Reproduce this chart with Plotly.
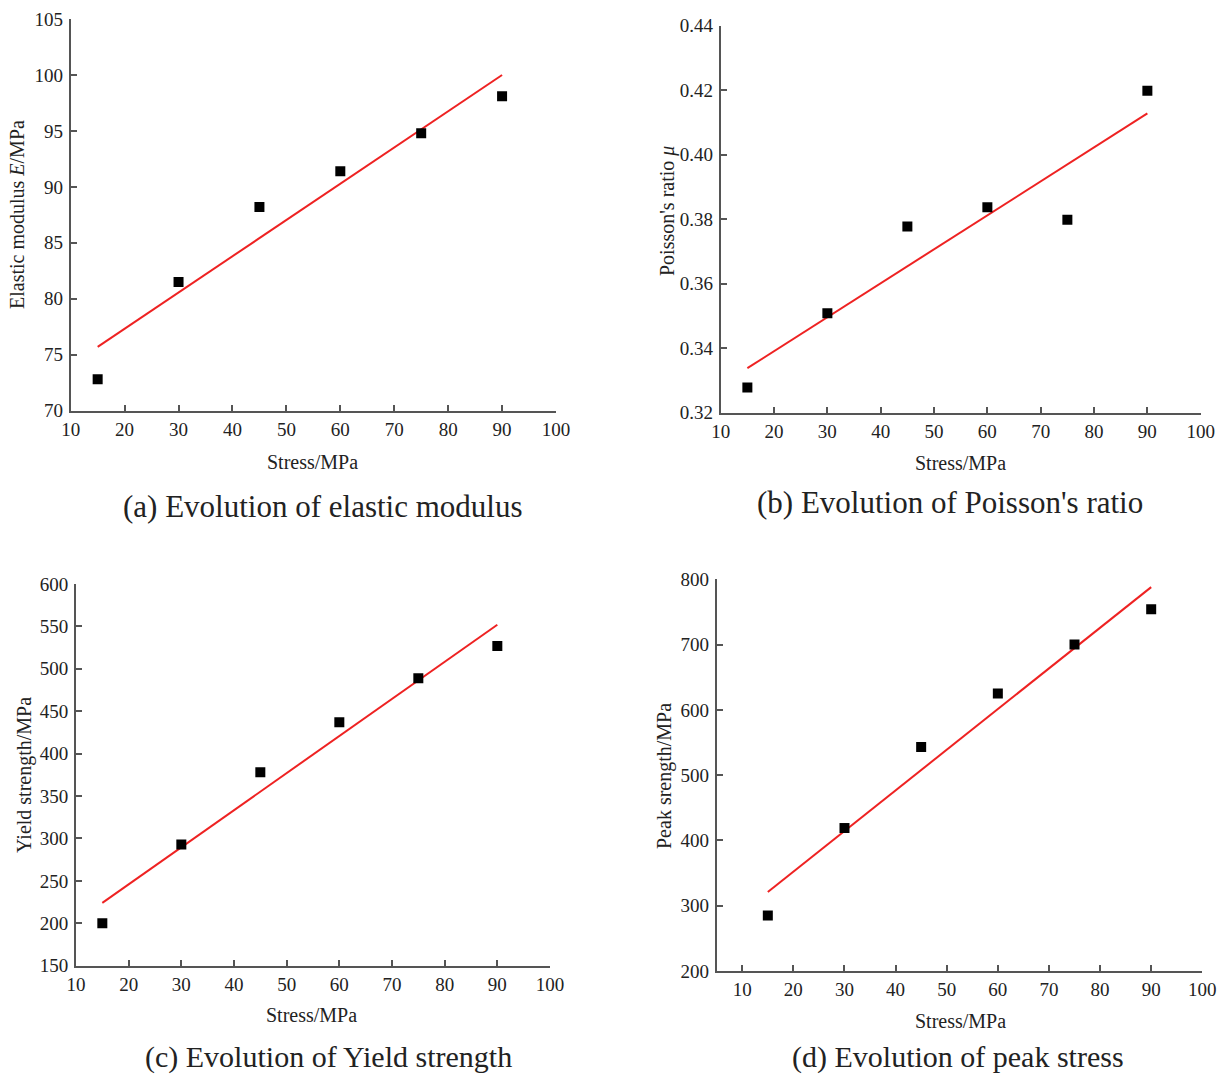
import plotly.graph_objects as go

W, H = 1226, 1078

stress = [15, 30, 45, 60, 75, 90]

elastic_modulus = [72.8, 81.5, 88.2, 91.4, 94.8, 98.1]
elastic_fit_x = [15, 90]
elastic_fit_y = [75.7, 100.0]

poisson_ratio = [0.3278, 0.3508, 0.3777, 0.3837, 0.3798, 0.4198]
poisson_fit_x = [15, 90]
poisson_fit_y = [0.3338, 0.4128]

yield_strength = [200, 293, 378, 437, 489, 527]
yield_fit_x = [15, 90]
yield_fit_y = [224, 552]

peak_strength = [285, 419, 543, 625, 700, 754]
peak_fit_x = [15, 90]
peak_fit_y = [321, 788]

x_ticks = [10, 20, 30, 40, 50, 60, 70, 80, 90, 100]
ticks_a = [70, 75, 80, 85, 90, 95, 100, 105]
ticks_b = [0.32, 0.34, 0.36, 0.38, 0.40, 0.42, 0.44]
ticks_c = [150, 200, 250, 300, 350, 400, 450, 500, 550, 600]
ticks_d = [200, 300, 400, 500, 600, 700, 800]

FONT = "Liberation Serif"
AXIS_COLOR = "#555555"
TICK_COLOR = "#222222"


def px_x(p):
    return p / W


def px_y(p):
    return 1 - p / H


panels = [
    dict(y=elastic_modulus, fx=elastic_fit_x, fy=elastic_fit_y,
         xb=(70.7, 556), yb=(19, 410.7), xr=[10, 100], yr=[70, 105],
         yt=ticks_a, fmt=None),
    dict(y=poisson_ratio, fx=poisson_fit_x, fy=poisson_fit_y,
         xb=(720.7, 1200.7), yb=(25.7, 412.7), xr=[10, 100], yr=[0.32, 0.44],
         yt=ticks_b, fmt=".2f"),
    dict(y=yield_strength, fx=yield_fit_x, fy=yield_fit_y,
         xb=(76, 550), yb=(584, 965.7), xr=[10, 100], yr=[150, 600],
         yt=ticks_c, fmt=None),
    dict(y=peak_strength, fx=peak_fit_x, fy=peak_fit_y,
         xb=(716.7, 1202.3), yb=(579.3, 971), xr=[5, 100], yr=[200, 800],
         yt=ticks_d, fmt=None),
]

fig = go.Figure()
layout = dict(
    width=W, height=H, margin=dict(l=0, r=0, t=0, b=0, autoexpand=False),
    paper_bgcolor="white", plot_bgcolor="white", showlegend=False,
    font=dict(family=FONT, color=TICK_COLOR),
)

for i, p in enumerate(panels):
    n = "" if i == 0 else str(i + 1)
    xa, ya = "x" + n, "y" + n
    fig.add_trace(go.Scatter(x=p["fx"], y=p["fy"], mode="lines",
                             line=dict(color="#ee2222", width=2),
                             xaxis=xa, yaxis=ya, hoverinfo="skip"))
    fig.add_trace(go.Scatter(x=stress, y=p["y"], mode="markers",
                             marker=dict(symbol="square", size=10, color="black"),
                             xaxis=xa, yaxis=ya))
    common = dict(showgrid=False, zeroline=False, showline=True, automargin=False,
                  linecolor=AXIS_COLOR, linewidth=2, ticks="inside",
                  ticklen=6, tickwidth=2, tickcolor=AXIS_COLOR,
                  tickfont=dict(family=FONT, size=19, color=TICK_COLOR),
                  mirror=False, fixedrange=True)
    layout["xaxis" + n] = dict(common, domain=[px_x(p["xb"][0]), px_x(p["xb"][1])],
                               range=p["xr"], tickvals=x_ticks, anchor=ya)
    yax = dict(common, domain=[px_y(p["yb"][1]), px_y(p["yb"][0])],
               range=p["yr"], tickvals=p["yt"], anchor=xa, ticklabelstandoff=2)
    if p["fmt"]:
        yax["tickformat"] = p["fmt"]
    layout["yaxis" + n] = yax

fig.update_layout(**layout)

annotations = []


def add_text(text, x, y, size, angle=0):
    annotations.append(dict(text=text, x=px_x(x), y=px_y(y), xref="paper", yref="paper",
                            showarrow=False, textangle=angle, xanchor="center", yanchor="middle",
                            font=dict(family=FONT, size=size, color="#222222")))


# x-axis titles
add_text("Stress/MPa", 313, 462, 20)
add_text("Stress/MPa", 960, 463, 20)
add_text("Stress/MPa", 311, 1015, 20)
add_text("Stress/MPa", 960, 1021, 20)
# y-axis titles
add_text("Elastic modulus <i>E</i>/MPa", 17, 215, 20, -90)
add_text("Poisson's ratio <i>μ</i>", 667, 211, 20, -90)
add_text("Yield strength/MPa", 24, 775, 20, -90)
add_text("Peak srength/MPa", 664, 776, 20, -90)
# captions
add_text("(a) Evolution of elastic modulus", 322, 506, 31)
add_text("(b) Evolution of Poisson's ratio", 950, 502, 31)
add_text("(c) Evolution of Yield strength", 328, 1057, 30)
add_text("(d) Evolution of peak stress", 958, 1057, 30)

fig.update_layout(annotations=annotations)
fig.write_html("out.html")
